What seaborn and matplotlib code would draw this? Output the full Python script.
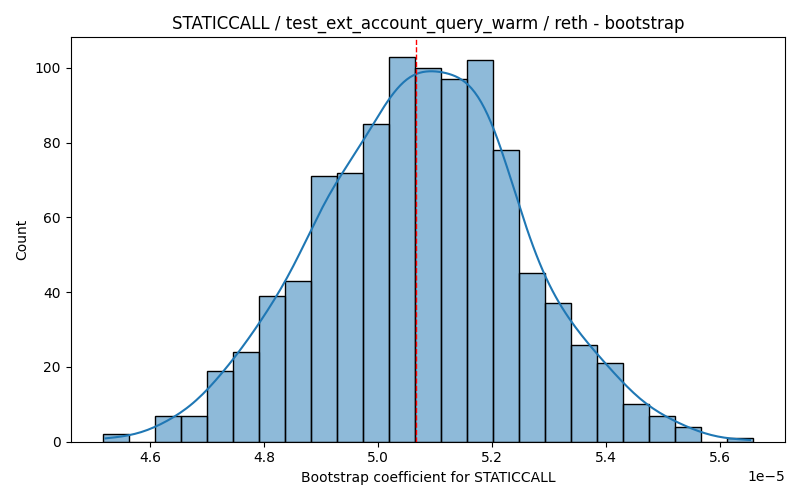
import matplotlib
matplotlib.use("Agg")
import matplotlib.pyplot as plt
import seaborn as sns
import numpy as np
import pandas as pd

# bootstrap histogram (25 equal bins)
bin_lo = 4.5175e-5
bin_hi = 5.658e-5
n_bins = 25
counts = [2, 0, 7, 7, 19, 24, 39, 43, 71, 72, 85, 103, 100,
          97, 102, 78, 45, 37, 26, 21, 10, 7, 4, 0, 1]
mean_coef = 5.0665e-5

edges = np.linspace(bin_lo, bin_hi, n_bins + 1)
centers = (edges[:-1] + edges[1:]) / 2
df = pd.DataFrame({"coef": centers, "count": counts})

fig, ax = plt.subplots(figsize=(8, 5))
# weighted bin centres give a small effective n, so shrink the bandwidth
# back to what 1000 raw samples would give
sns.histplot(data=df, x="coef", weights="count", bins=n_bins,
             binrange=(bin_lo, bin_hi), kde=True,
             kde_kws={"cut": 0.25, "bw_adjust": 0.42}, ax=ax)
ax.axvline(mean_coef, color="red", linestyle="--", linewidth=1)
ax.set_title("STATICCALL / test_ext_account_query_warm / reth - bootstrap")
ax.set_xlabel("Bootstrap coefficient for STATICCALL")
ax.set_ylabel("Count")
plt.tight_layout()
plt.savefig("out.png", dpi=100)
